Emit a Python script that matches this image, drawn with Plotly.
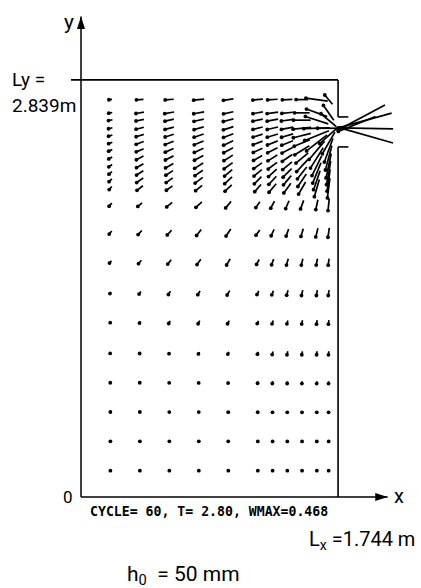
import numpy as np
import plotly.graph_objects as go

# ---------------- geometry (m) ----------------
LX = 1.744
LY = 2.839
OUTLET_TOP = 2.587
OUTLET_BOTTOM = 2.383
LIP = 0.07
X_AXIS_END = 2.08
Y_AXIS_END = 3.27

# ---------------- vector grid ----------------
COLS = [0.2, 0.4, 0.6, 0.8, 1.0, 1.2, 1.3, 1.4, 1.5, 1.6, 1.68]
ROWS = [0.18, 0.38, 0.58, 0.78, 0.98, 1.19, 1.39, 1.60, 1.80, 1.99,
        2.103, 2.156, 2.206, 2.255, 2.308, 2.36, 2.41, 2.46, 2.51, 2.565, 2.615, 2.705]

# speed (m/s) per row (bottom -> top), per column
SPEED = [
    [0.003, 0.003, 0.003, 0.003, 0.003, 0.003, 0.003, 0.003, 0.003, 0.003, 0.003],
    [0.003, 0.003, 0.003, 0.004, 0.004, 0.004, 0.004, 0.004, 0.004, 0.004, 0.004],
    [0.004, 0.004, 0.005, 0.006, 0.007, 0.008, 0.009, 0.009, 0.009, 0.009, 0.009],
    [0.007, 0.007, 0.009, 0.010, 0.013, 0.015, 0.019, 0.019, 0.020, 0.020, 0.020],
    [0.009, 0.010, 0.013, 0.017, 0.021, 0.021, 0.027, 0.030, 0.030, 0.030, 0.030],
    [0.009, 0.017, 0.026, 0.030, 0.030, 0.026, 0.030, 0.030, 0.034, 0.034, 0.034],
    [0.017, 0.026, 0.034, 0.038, 0.043, 0.034, 0.038, 0.043, 0.047, 0.047, 0.047],
    [0.026, 0.038, 0.047, 0.055, 0.060, 0.047, 0.051, 0.055, 0.055, 0.055, 0.055],
    [0.034, 0.047, 0.055, 0.064, 0.072, 0.055, 0.060, 0.064, 0.068, 0.077, 0.081],
    [0.034, 0.047, 0.060, 0.068, 0.072, 0.060, 0.068, 0.072, 0.077, 0.085, 0.102],
    [0.034, 0.064, 0.064, 0.072, 0.077, 0.081, 0.094, 0.102, 0.119, 0.153, 0.170],
    [0.034, 0.068, 0.068, 0.081, 0.085, 0.085, 0.094, 0.102, 0.128, 0.170, 0.187],
    [0.034, 0.068, 0.072, 0.081, 0.085, 0.085, 0.094, 0.102, 0.128, 0.187, 0.204],
    [0.034, 0.068, 0.077, 0.085, 0.089, 0.085, 0.094, 0.102, 0.136, 0.187, 0.213],
    [0.034, 0.068, 0.077, 0.085, 0.089, 0.085, 0.094, 0.102, 0.136, 0.204, 0.213],
    [0.034, 0.068, 0.077, 0.085, 0.089, 0.085, 0.094, 0.102, 0.145, 0.204, 0.213],
    [0.034, 0.068, 0.077, 0.085, 0.089, 0.085, 0.094, 0.102, 0.145, 0.221, 0.213],
    [0.034, 0.068, 0.077, 0.085, 0.089, 0.085, 0.094, 0.102, 0.153, 0.221, 0.204],
    [0.034, 0.068, 0.077, 0.085, 0.089, 0.085, 0.094, 0.102, 0.153, 0.221, 0.187],
    [0.034, 0.068, 0.077, 0.085, 0.089, 0.085, 0.094, 0.102, 0.145, 0.204, 0.170],
    [0.030, 0.068, 0.081, 0.089, 0.085, 0.085, 0.094, 0.094, 0.128, 0.187, 0.153],
    [0.026, 0.060, 0.072, 0.089, 0.085, 0.085, 0.085, 0.085, 0.102, 0.187, 0.102],
]

# orientation of each drawn stroke (deg); flow points to the heavy (left/lower) end
ANGLE = [
    [60, 60, 60, 60, 60, 70, 75, 80, 80, 85, 85],
    [60, 60, 60, 60, 60, 70, 75, 80, 80, 85, 85],
    [60, 60, 60, 62, 65, 70, 75, 78, 80, 83, 85],
    [60, 60, 60, 65, 65, 70, 75, 78, 80, 83, 85],
    [55, 55, 58, 60, 62, 68, 72, 76, 80, 83, 85],
    [60, 60, 62, 62, 62, 65, 70, 75, 78, 80, 82],
    [55, 55, 58, 60, 60, 62, 68, 74, 77, 80, 82],
    [50, 50, 52, 54, 60, 62, 70, 74, 76, 79, 82],
    [50, 48, 48, 52, 56, 55, 65, 71, 73, 76, 82],
    [48, 40, 40, 42, 50, 55, 62, 67, 70, 78, 84],
    [50, 38, 36, 39, 43, 49, 50, 54, 60, 74, 83],
    [45, 35, 36, 37, 43, 45, 47, 50, 56, 71, 82],
    [40, 32, 33, 35, 40, 40, 42, 45, 52, 68, 80],
    [35, 30, 30, 32, 36, 35, 37, 40, 47, 64, 78],
    [30, 27, 27, 28, 32, 30, 32, 34, 40, 58, 75],
    [25, 23, 24, 25, 28, 25, 27, 28, 32, 50, 70],
    [22, 20, 21, 22, 25, 21, 22, 22, 23, 38, 60],
    [18, 17, 18, 19, 21, 17, 17, 16, 14, 22, 42],
    [15, 14, 15, 16, 18, 14, 13, 11, 6, 2, 0],
    [12, 12, 13, 13, 15, 12, 10, 8, 0, -18, -40],
    [10, 10, 10, 10, 12, 10, 8, 6, 0, -20, -55],
    [5, 3, 5, 6, 8, 5, 4, 3, 0, -8, -50],
]

# jet vectors just outside the opening
JET_X = [1.903, 1.927, 1.937, 1.937, 1.872]
JET_Y = [2.583, 2.563, 2.509, 2.461, 2.539]
JET_SPEED = [0.450, 0.468, 0.450, 0.468, 0.340]
JET_ANGLE = [28, 15.5, -1, -16, 22]

VEC_SCALE = 0.8   # plot metres per (m/s)

CYCLE_TEXT = "CYCLE= 60, T= 2.80, WMAX=0.468"

# ---------------- build vector segments ----------------
seg_x, seg_y, head_x, head_y = [], [], [], []


def add_vec(x0, y0, s, ang):
    a = np.radians(ang)
    u, v = -s * np.cos(a), -s * np.sin(a)
    dx, dy = 0.5 * VEC_SCALE * u, 0.5 * VEC_SCALE * v
    seg_x.extend([x0 - dx, x0 + dx, None])
    seg_y.extend([y0 - dy, y0 + dy, None])
    head_x.append(x0 + dx)
    head_y.append(y0 + dy)


for r, y0 in enumerate(ROWS):
    for c, x0 in enumerate(COLS):
        add_vec(x0, y0, SPEED[r][c], ANGLE[r][c])
for x0, y0, s, a in zip(JET_X, JET_Y, JET_SPEED, JET_ANGLE):
    add_vec(x0, y0, s, a)

fig = go.Figure()
fig.add_trace(go.Scatter(x=seg_x, y=seg_y, mode="lines",
                         line=dict(color="black", width=1.7),
                         hoverinfo="skip", showlegend=False))
fig.add_trace(go.Scatter(x=head_x, y=head_y, mode="markers",
                         marker=dict(color="black", size=3.8),
                         hoverinfo="skip", showlegend=False))

# axes with arrow heads
fig.add_trace(go.Scatter(x=[0, 0, None, 0, X_AXIS_END], y=[0, Y_AXIS_END, None, 0, 0],
                         mode="lines", line=dict(color="black", width=1.5),
                         hoverinfo="skip", showlegend=False))
fig.add_trace(go.Scatter(x=[0, X_AXIS_END], y=[Y_AXIS_END, 0], mode="markers",
                         marker=dict(symbol="arrow", size=13, color="black",
                                     angle=[0, 90], line=dict(width=0)),
                         hoverinfo="skip", showlegend=False))

# tank outline
wall = dict(type="line", xref="x", yref="y", line=dict(color="black", width=1.6))
shapes = [
    dict(wall, x0=-0.068, y0=LY, x1=LX, y1=LY),
    dict(wall, x0=LX, y0=LY, x1=LX, y1=OUTLET_TOP),
    dict(wall, x0=LX, y0=OUTLET_TOP, x1=LX + LIP, y1=OUTLET_TOP),
    dict(wall, x0=LX, y0=OUTLET_BOTTOM, x1=LX + LIP, y1=OUTLET_BOTTOM),
    dict(wall, x0=LX, y0=OUTLET_BOTTOM, x1=LX, y1=0),
]

FONT = "Roboto, Liberation Sans, sans-serif"
ann = [
    dict(x=-0.081, y=3.233, text="y", font=dict(size=21, family=FONT)),
    dict(x=2.157, y=0.005, text="x", font=dict(size=20, family=FONT)),
    dict(x=-0.088, y=0.0, text="0", font=dict(size=17, family=FONT)),
    dict(x=-0.4817, y=2.845, text="Ly =", xanchor="left", font=dict(size=19, family=FONT)),
    dict(x=-0.4817, y=2.668, text="2.839m", xanchor="left", font=dict(size=19, family=FONT)),
    dict(x=0.0475, y=-0.102, text=CYCLE_TEXT, xanchor="left",
         font=dict(size=13.2, family="DejaVu Sans Mono", weight="bold")),
    dict(x=1.533, y=-0.293, text="L<sub>x</sub> =1.744 m", xanchor="left",
         font=dict(size=20, family=FONT)),
    dict(x=0.2985, y=-0.531, text="h<sub>0</sub>  = 50 mm", xanchor="left",
         font=dict(size=21, family=FONT)),
]
for a in ann:
    a["showarrow"] = False
    a["font"]["color"] = "black"

fig.update_layout(
    width=421, height=588,
    margin=dict(l=0, r=0, t=0, b=0),
    paper_bgcolor="white", plot_bgcolor="white",
    xaxis=dict(range=[-0.5495, 2.3066], visible=False),
    yaxis=dict(range=[-0.6195, 3.383], visible=False),
    shapes=shapes, annotations=ann,
)

fig.write_html("out.html")
